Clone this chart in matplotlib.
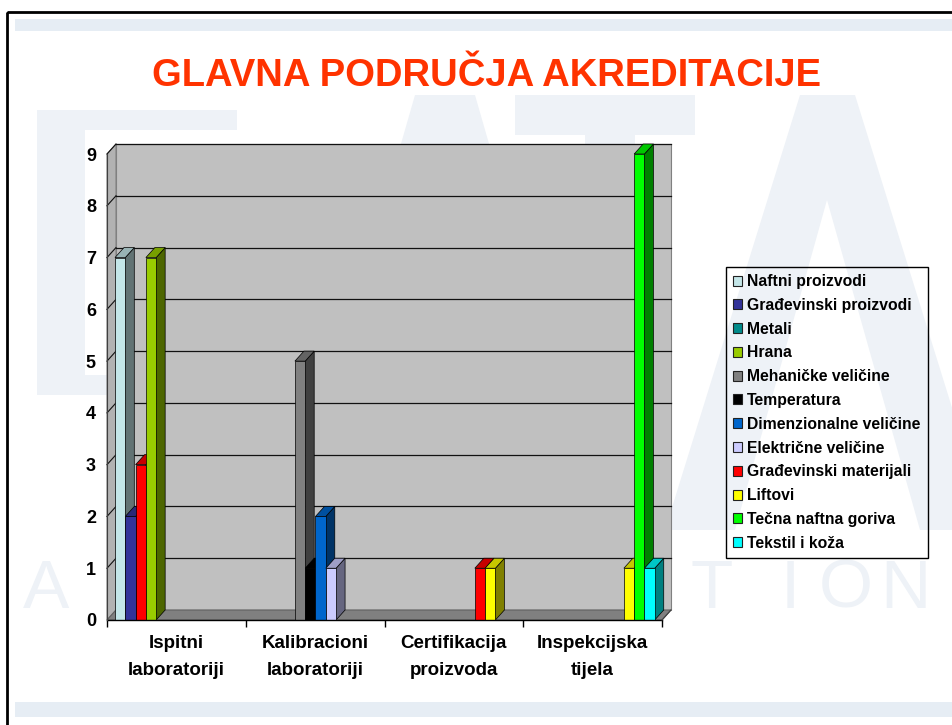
import numpy as np
import matplotlib.pyplot as plt
from matplotlib.patches import Polygon, Rectangle, Patch
from matplotlib import font_manager

W, H = 952, 725

categories = ['Ispitni\nlaboratoriji', 'Kalibracioni\nlaboratoriji',
              'Certifikacija\nproizvoda', 'Inspekcijska\ntijela']
series_names = ['Naftni proizvodi', 'Građevinski proizvodi', 'Metali', 'Hrana',
                'Mehaničke veličine', 'Temperatura', 'Dimenzionalne veličine',
                'Električne veličine', 'Građevinski materijali', 'Liftovi',
                'Tečna naftna goriva', 'Tekstil i koža']
naftni = [7, 0, 0, 0]
gradj_proizvodi = [2, 0, 0, 0]
metali = [3, 0, 0, 0]
hrana = [7, 0, 0, 0]
mehanicke = [0, 5, 0, 0]
temperatura = [0, 1, 0, 0]
dimenzionalne = [0, 2, 0, 0]
elektricne = [0, 1, 0, 0]
gradj_materijali = [0, 0, 1, 0]
liftovi = [0, 0, 1, 1]
tecna_goriva = [0, 0, 0, 9]
tekstil = [0, 0, 0, 1]
values = [naftni, gradj_proizvodi, metali, hrana, mehanicke, temperatura,
          dimenzionalne, elektricne, gradj_materijali, liftovi, tecna_goriva,
          tekstil]
colors = ['#C4E6E8', '#333399', '#008B8B', '#99CC00', '#808080', '#000000',
          '#0066CC', '#CCCCFF', '#FF0000', '#FFFF00', '#00FF00', '#00FFFF']
# the Metali point in the first group is painted red in the original
point_colors = {(2, 0): '#FF0000'}

names = {f.name for f in font_manager.fontManager.ttflist}
narrow = 'Liberation Sans Narrow' if 'Liberation Sans Narrow' in names else None
plt.rcParams['font.family'] = ['Liberation Sans', 'DejaVu Sans']

fig = plt.figure(figsize=(W / 100, H / 100), dpi=100)
fig.patch.set_facecolor('white')

# ---- background (pixel coordinates, origin top-left)
bg = fig.add_axes([0, 0, 1, 1], zorder=0)
bg.set_xlim(0, W)
bg.set_ylim(H, 0)
bg.axis('off')
wm = '#EEF2F7'
bg.add_patch(Rectangle((15, 19), W, 12, facecolor='#E6EDF4', edgecolor='none'))
bg.add_patch(Rectangle((15, 702), W, 15, facecolor='#E6EDF4', edgecolor='none'))
# faint logo shapes
bg.add_patch(Rectangle((37, 110), 48, 285, facecolor=wm, edgecolor='none'))
bg.add_patch(Rectangle((37, 110), 200, 20, facecolor=wm, edgecolor='none'))
bg.add_patch(Rectangle((37, 375), 200, 20, facecolor=wm, edgecolor='none'))
bg.add_patch(Polygon([(415, 95), (475, 95), (600, 530), (540, 530), (445, 190),
                      (350, 530), (290, 530)], facecolor=wm, edgecolor='none'))
bg.add_patch(Rectangle((515, 95), 180, 40, facecolor=wm, edgecolor='none'))
bg.add_patch(Rectangle((585, 95), 50, 435, facecolor=wm, edgecolor='none'))
bg.add_patch(Polygon([(800, 95), (855, 95), (990, 530), (920, 530), (827, 200),
                      (735, 530), (665, 530)], facecolor=wm, edgecolor='none'))
for ch, xc in zip('ATION', [46, 712, 790, 846, 905]):
    bg.text(xc, 590, ch, fontsize=50, color=wm, ha='center', va='center')
bg.add_patch(Rectangle((7, 12), W + 20, H + 20, facecolor='none',
                       edgecolor='black', lw=2))

title = bg.text(487, 76, 'GLAVNA PODRUČJA AKREDITACIJE', color='#FF3300',
                fontsize=30, fontweight='bold', ha='center', va='center',
                family=[narrow] if narrow else ['Liberation Sans'])
fig.canvas.draw()
tw = title.get_window_extent().width
title.set_fontsize(30 * 670 / tw)

# ---- chart (front plane of the 3D box)
left, right, base, top = 107, 662, 620, 154
ax = fig.add_axes([left / W, 1 - base / H, (right - left) / W, (base - top) / H],
                  zorder=1)
ax.patch.set_visible(False)
n = len(categories)
ax.set_xlim(0, n)
ax.set_ylim(0, 9)
XU = (right - left) / n
YU = (base - top) / 9
DX, DY = 9 / XU, 10 / YU

ax.add_patch(Polygon([(DX, DY), (n + DX, DY), (n + DX, 9 + DY), (DX, 9 + DY)],
                     facecolor='#C0C0C0', edgecolor='#808080', lw=0.8,
                     clip_on=False, zorder=1))
ax.add_patch(Polygon([(0, 0), (DX, DY), (DX, 9 + DY), (0, 9)],
                     facecolor='#B2B2B2', edgecolor='#808080', lw=0.8,
                     clip_on=False, zorder=1))
ax.add_patch(Polygon([(0, 0), (n, 0), (n + DX, DY), (DX, DY)],
                     facecolor='#808080', edgecolor='#606060', lw=0.8,
                     clip_on=False, zorder=1))
for v in range(1, 10):
    ax.plot([DX, n + DX], [v + DY, v + DY], color='#111111', lw=0.9,
            clip_on=False, zorder=2)
    ax.plot([0, DX], [v, v + DY], color='#111111', lw=0.8, clip_on=False,
            zorder=2)

slot = 10.29 / XU
start = 8 / XU


def shade(c, f):
    rgb = np.array(plt.matplotlib.colors.to_rgb(c))
    return tuple(rgb * f)


for i, vals in enumerate(values):
    for c, v in enumerate(vals):
        if v == 0:
            continue
        col = point_colors.get((i, c), colors[i])
        x0 = c + start + i * slot
        x1 = x0 + slot
        ax.add_patch(Polygon([(x1, 0), (x1 + DX, DY), (x1 + DX, v + DY), (x1, v)],
                             facecolor=shade(col, 0.5), edgecolor='black',
                             lw=0.5, clip_on=False, zorder=3))
        ax.add_patch(Polygon([(x0, v), (x1, v), (x1 + DX, v + DY), (x0 + DX, v + DY)],
                             facecolor=shade(col, 0.78), edgecolor='black',
                             lw=0.5, clip_on=False, zorder=3))
        ax.add_patch(Rectangle((x0, 0), slot, v, facecolor=col,
                               edgecolor='black', lw=0.5, clip_on=False,
                               zorder=3))

# axes lines
ax.plot([0, n], [0, 0], color='black', lw=1, clip_on=False, zorder=4)
ax.plot([n, n + DX], [0, DY], color='#404040', lw=0.8, clip_on=False, zorder=4)
ax.plot([0, 0], [0, 9], color='#404040', lw=0.8, clip_on=False, zorder=4)
for s in ax.spines.values():
    s.set_visible(False)

ax.set_yticks(range(10))
ax.set_yticklabels([str(v) for v in range(10)], fontsize=13,
                   fontweight='bold')
ax.tick_params(axis='y', length=0, pad=8)
ax.set_xticks(range(n + 1))
ax.set_xticklabels([])
ax.tick_params(axis='x', length=5, width=1, direction='out', color='black')

cat_family = [narrow] if narrow else ['Liberation Sans']
cat_size = 14 if narrow else 13.5
for c, lab in enumerate(categories):
    ax.annotate(lab, (c + 0.5, 0), xytext=(0, -11), textcoords='offset points',
                ha='center', va='top', fontsize=cat_size, fontweight='bold',
                linespacing=1.75, family=cat_family, annotation_clip=False)

handles = [Patch(facecolor=colors[i], edgecolor='#222222', lw=0.8)
           for i in range(len(series_names))]
leg = fig.legend(handles, series_names, loc='upper left',
                 bbox_to_anchor=(726 / W, 1 - 267 / H), borderaxespad=0,
                 fancybox=False, edgecolor='black', framealpha=1,
                 prop={'weight': 'bold', 'size': 11.3},
                 handlelength=0.6, handleheight=0.6, handletextpad=0.3,
                 labelspacing=0.56, borderpad=0.45)
leg.get_frame().set_facecolor('none')
leg.get_frame().set_linewidth(1)

fig.savefig('out.png', dpi=100)
